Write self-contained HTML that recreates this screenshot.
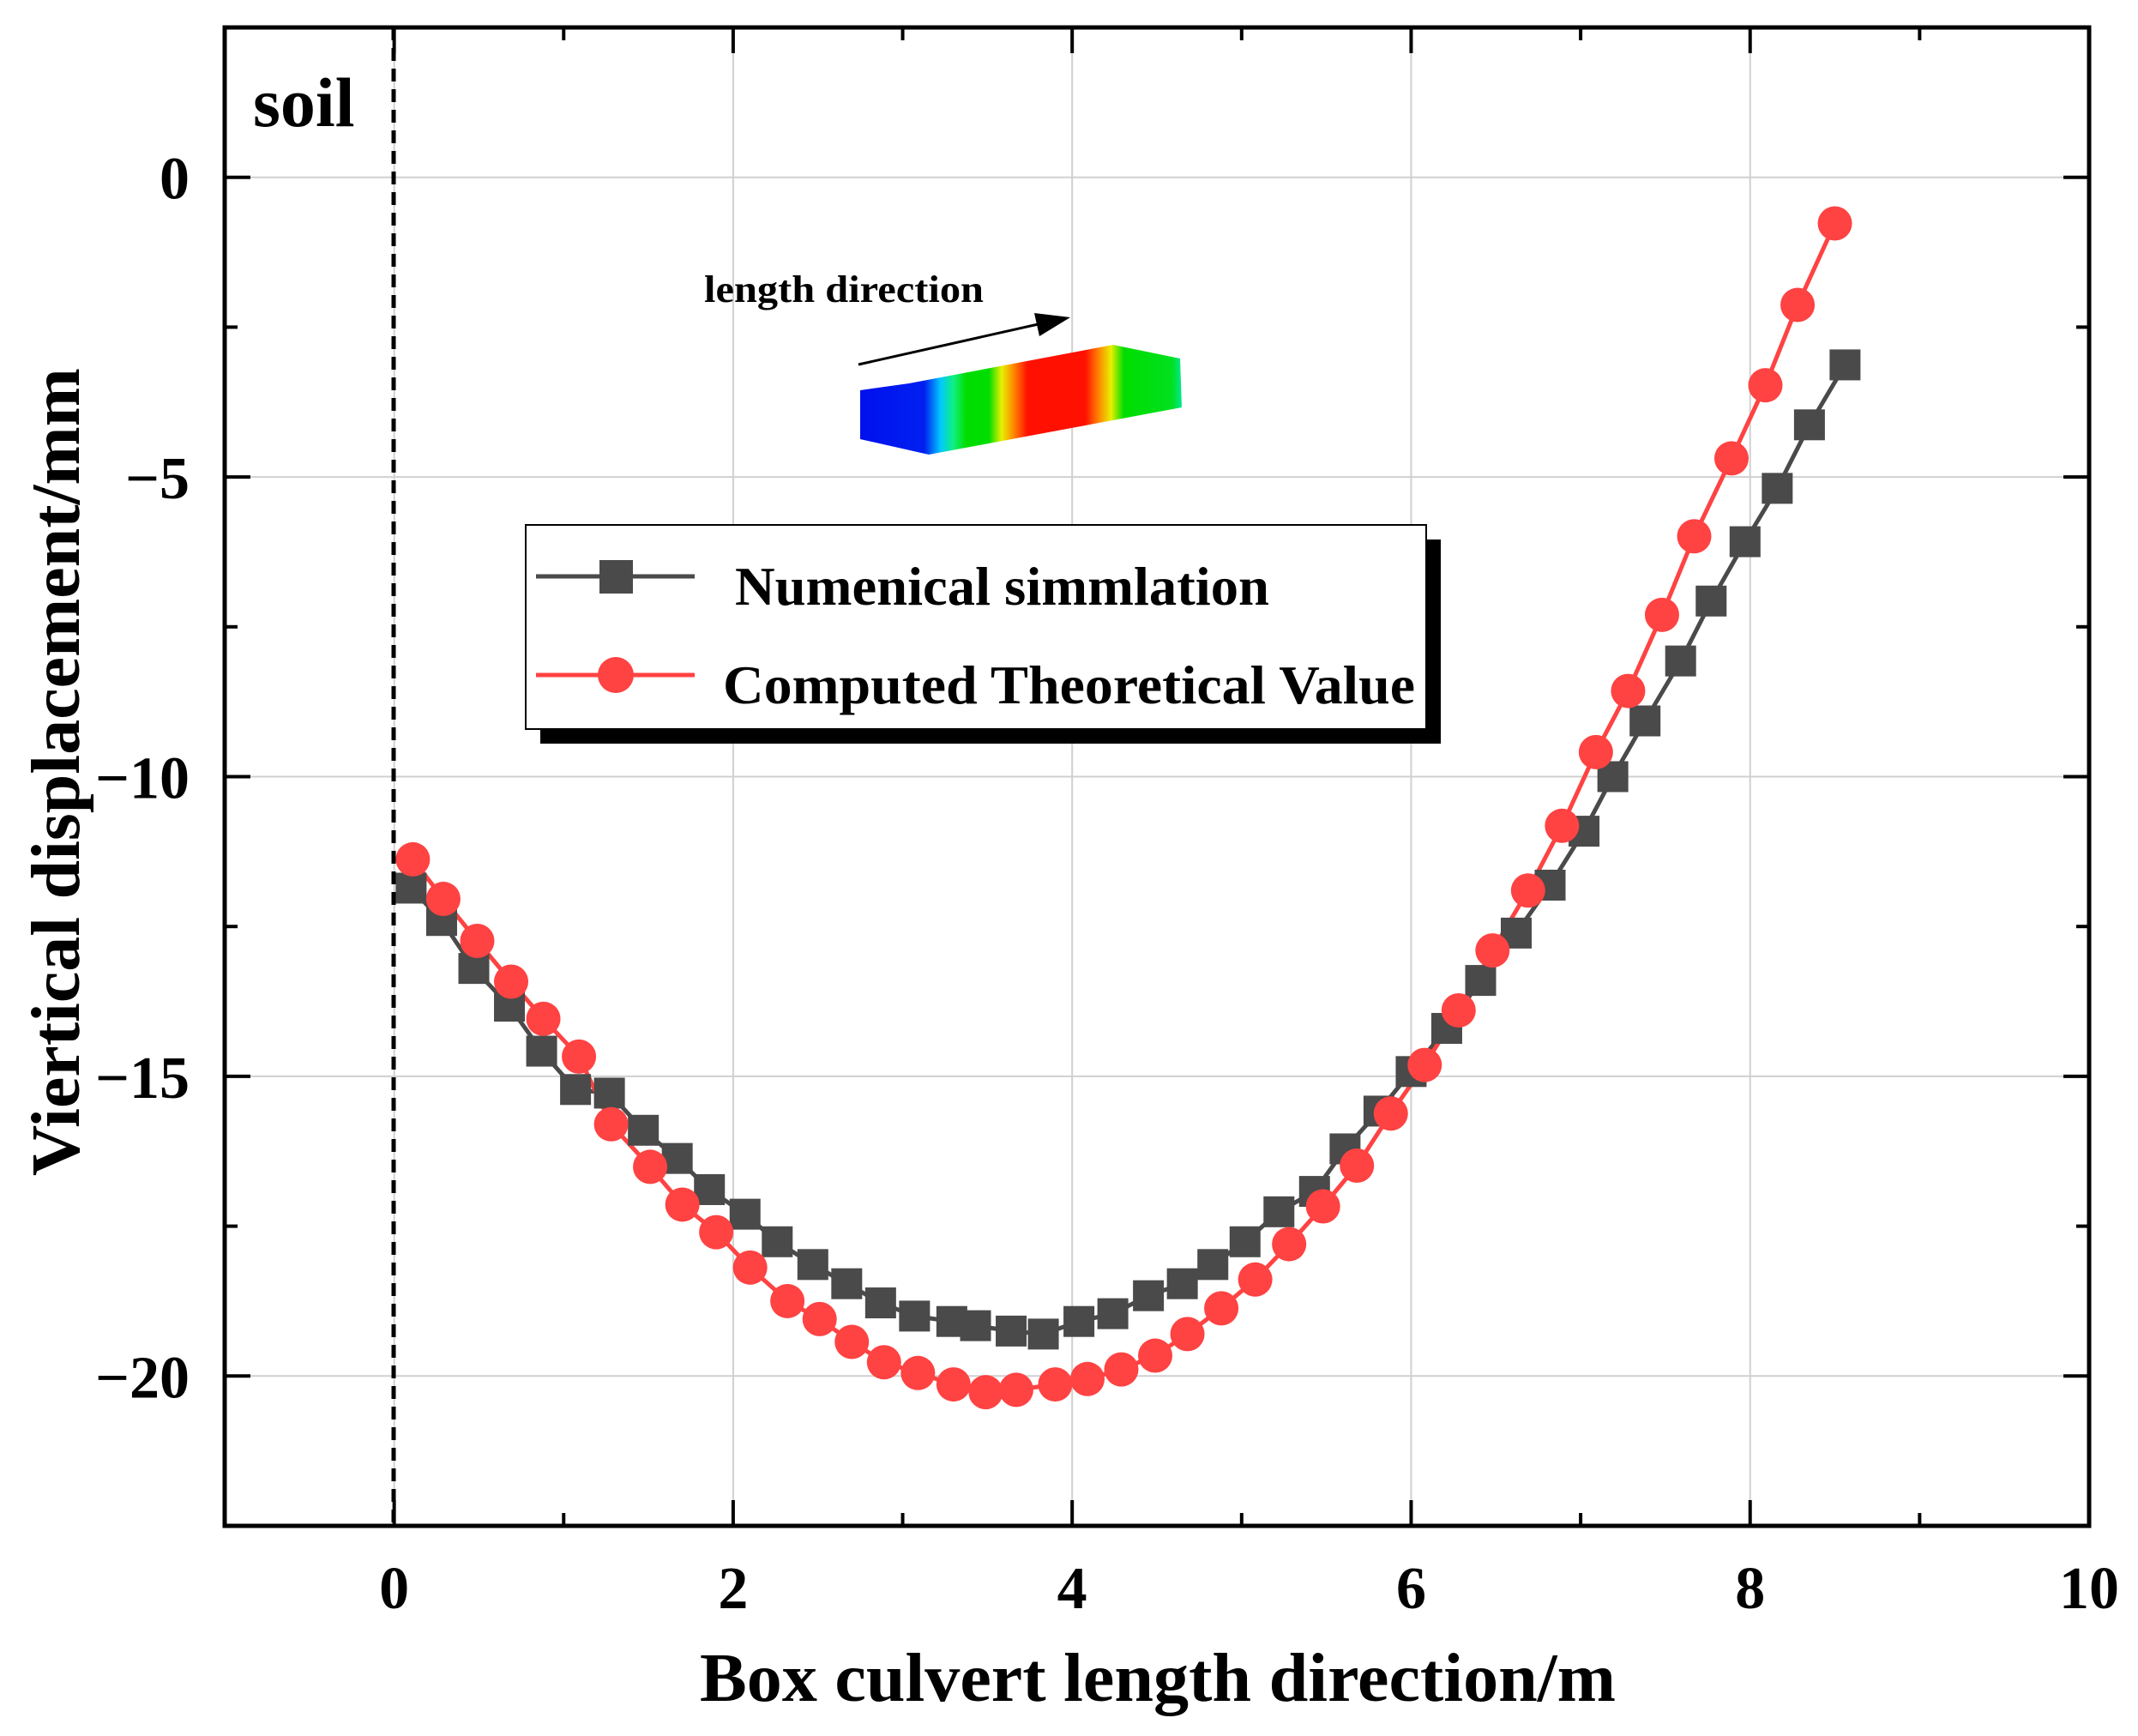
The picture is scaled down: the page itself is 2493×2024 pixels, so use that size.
<!DOCTYPE html>
<html><head><meta charset="utf-8"><style>
html,body{margin:0;padding:0;background:#fff;}
svg{display:block;font-family:"Liberation Serif",serif;font-weight:bold;}
</style></head><body>
<svg id="chart" width="2493" height="2024" viewBox="0 0 2493 2024" xmlns="http://www.w3.org/2000/svg">
<defs>
<linearGradient id="culv" x1="1003" y1="0" x2="1378" y2="0" gradientUnits="userSpaceOnUse">
<stop offset="0" stop-color="#0010ee"/><stop offset="0.2" stop-color="#0020f0"/><stop offset="0.25" stop-color="#00c8ff"/><stop offset="0.29" stop-color="#10f080"/><stop offset="0.33" stop-color="#00dd00"/><stop offset="0.4" stop-color="#00dd00"/><stop offset="0.44" stop-color="#e8f000"/><stop offset="0.48" stop-color="#ff8000"/><stop offset="0.52" stop-color="#ff1000"/><stop offset="0.7" stop-color="#ff1000"/><stop offset="0.74" stop-color="#ff8000"/><stop offset="0.78" stop-color="#e8f000"/><stop offset="0.82" stop-color="#00dd00"/><stop offset="0.97" stop-color="#00e020"/><stop offset="1" stop-color="#00e890"/>
</linearGradient>
</defs>
<g id="grid"></g>
<g id="ticks"></g>
<line x1="459" y1="32" x2="459" y2="1778" stroke="#000" stroke-width="5" stroke-dasharray="15 9"/>
<text x="295" y="147" font-size="82">soil</text>
<g>
<text x="821" y="352" font-size="44" textLength="326" lengthAdjust="spacingAndGlyphs">length direction</text>
<line x1="1001" y1="425" x2="1215" y2="377" stroke="#000" stroke-width="3"/>
<polygon points="1248,370 1206,365 1212,392" fill="#000"/>
<polygon points="1003,455 1060,447 1298,402 1376,418 1378,475 1083,530 1003,512" fill="url(#culv)"/>
</g>
<g id="series"></g>
<rect x="262" y="32" width="2174" height="1747" fill="none" stroke="#000" stroke-width="5"/>
<g id="labels"></g>
<g>
<rect x="630" y="629" width="1050" height="238" fill="#000"/>
<rect x="613" y="612" width="1050" height="238" fill="#fff" stroke="#000" stroke-width="2"/>
<g>
<line x1="625" y1="672" x2="810" y2="672" stroke="#4a4a4a" stroke-width="5"/>
<rect x="699" y="653" width="39" height="39" fill="#4a4a4a"/>
<text x="857" y="705" font-size="64" textLength="623" lengthAdjust="spacingAndGlyphs">Numenical simmlation</text>
</g>
<g>
<line x1="625" y1="787" x2="810" y2="787" stroke="#ff4242" stroke-width="5"/>
<circle cx="718" cy="787" r="21" fill="#ff4242"/>
<text x="843" y="820" font-size="64" textLength="807" lengthAdjust="spacingAndGlyphs">Computed Theoretical Value</text>
</g>
</g>
<text x="1350" y="1983" font-size="80" text-anchor="middle" textLength="1068" lengthAdjust="spacingAndGlyphs">Box culvert length direction/m</text>
<text transform="translate(92,900) rotate(-90)" font-size="80" text-anchor="middle" textLength="942" lengthAdjust="spacingAndGlyphs">Viertical displacement/mm</text>
</svg>
<script>
const numX = [0.10,0.28,0.47,0.68,0.87,1.07,1.27,1.47,1.67,1.86,2.07,2.26,2.47,2.67,2.87,3.07,3.29,3.43,3.64,3.83,4.04,4.24,4.45,4.65,4.83,5.02,5.22,5.43,5.61,5.81,6.00,6.21,6.41,6.62,6.82,7.02,7.19,7.38,7.59,7.77,7.97,8.16,8.35,8.56];
const numY = [-11.86,-12.40,-13.20,-13.83,-14.58,-15.22,-15.28,-15.90,-16.37,-16.89,-17.30,-17.76,-18.14,-18.46,-18.78,-19.00,-19.09,-19.16,-19.25,-19.30,-19.09,-18.96,-18.66,-18.46,-18.14,-17.76,-17.26,-16.92,-16.21,-15.58,-14.92,-14.20,-13.40,-12.61,-11.81,-10.91,-10.00,-9.07,-8.07,-7.07,-6.08,-5.19,-4.13,-3.13];
const thX = [0.11,0.29,0.49,0.69,0.88,1.09,1.28,1.51,1.70,1.90,2.10,2.32,2.51,2.70,2.89,3.09,3.30,3.49,3.67,3.90,4.09,4.29,4.49,4.68,4.88,5.08,5.28,5.48,5.68,5.88,6.08,6.28,6.48,6.69,6.89,7.09,7.28,7.48,7.67,7.89,8.09,8.28,8.50];
const thY = [-11.38,-12.04,-12.74,-13.42,-14.04,-14.67,-15.80,-16.51,-17.14,-17.60,-18.19,-18.75,-19.05,-19.43,-19.77,-19.95,-20.14,-20.27,-20.23,-20.14,-20.05,-19.89,-19.66,-19.30,-18.87,-18.39,-17.80,-17.17,-16.49,-15.62,-14.81,-13.90,-12.90,-11.90,-10.82,-9.59,-8.57,-7.30,-5.99,-4.69,-3.47,-2.13,-0.77];
const xTicks = [0,2,4,6,8,10];
const xTickLabels = ["0","2","4","6","8","10"];
const yTicks = [0,-5,-10,-15,-20];
const yTickLabels = ["0","\u22125","\u221210","\u221215","\u221220"];

const NS = "http://www.w3.org/2000/svg";
const X0 = 262, X1 = 2436, Y0 = 32, Y1 = 1779;
const xMin = -1, xMax = 10, yMin = -22.5, yMax = 2.5;
function sx(v){ return X0 + (v - xMin) / (xMax - xMin) * (X1 - X0); }
function sy(v){ return Y1 - (v - yMin) / (yMax - yMin) * (Y1 - Y0); }
function mk(tag, attrs, parent){ const e = document.createElementNS(NS, tag); for (const k in attrs) e.setAttribute(k, attrs[k]); parent.appendChild(e); return e; }

const grid = document.getElementById('grid');
const ticks = document.getElementById('ticks');
const labels = document.getElementById('labels');
xTicks.forEach((t, i) => {
  if (t < xMax) {
    const g = mk('line', {x1: sx(t), x2: sx(t), y1: Y0, y2: Y1, stroke: '#d0d0d0', 'stroke-width': 2}, grid);
    
    
  }
  const tb = mk('line', {x1: sx(t), x2: sx(t), y1: Y1, y2: Y1 - 30, stroke: '#000', 'stroke-width': 4}, ticks);
  
  
  mk('line', {x1: sx(t), x2: sx(t), y1: Y0, y2: Y0 + 30, stroke: '#000', 'stroke-width': 4}, ticks);
  const m = t + 1;
  if (m < xMax) {
    mk('line', {x1: sx(m), x2: sx(m), y1: Y1, y2: Y1 - 15, stroke: '#000', 'stroke-width': 4}, ticks);
    mk('line', {x1: sx(m), x2: sx(m), y1: Y0, y2: Y0 + 15, stroke: '#000', 'stroke-width': 4}, ticks);
  }
  const lb = mk('text', {x: sx(t), y: 1875, 'font-size': 70, 'text-anchor': 'middle'}, labels);
  lb.textContent = xTickLabels[i];
  
  
});
yTicks.forEach((t, i) => {
  const g = mk('line', {x1: X0, x2: X1, y1: sy(t), y2: sy(t), stroke: '#d0d0d0', 'stroke-width': 2}, grid);
  
  
  const tl = mk('line', {x1: X0, x2: X0 + 30, y1: sy(t), y2: sy(t), stroke: '#000', 'stroke-width': 4}, ticks);
  
  
  mk('line', {x1: X1, x2: X1 - 30, y1: sy(t), y2: sy(t), stroke: '#000', 'stroke-width': 4}, ticks);
  const m = t - 2.5;
  if (m > yMin) {
    mk('line', {x1: X0, x2: X0 + 15, y1: sy(m), y2: sy(m), stroke: '#000', 'stroke-width': 4}, ticks);
    mk('line', {x1: X1, x2: X1 - 15, y1: sy(m), y2: sy(m), stroke: '#000', 'stroke-width': 4}, ticks);
  }
  const lb = mk('text', {x: 221, y: sy(t) + 25, 'font-size': 70, 'text-anchor': 'end'}, labels);
  lb.textContent = yTickLabels[i];
  
  
});

const series = document.getElementById('series');
function drawLine(xs, ys, color, name){
  const pts = xs.map((x, i) => sx(x).toFixed(1) + ',' + sy(ys[i]).toFixed(1)).join(' ');
  const pl = mk('polyline', {points: pts, fill: 'none', stroke: color, 'stroke-width': 5}, series);
  
  
}
drawLine(numX, numY, '#4a4a4a', 'numerical-line');
drawLine(thX, thY, '#ff4242', 'theoretical-line');
numX.forEach((x, i) => {
  const r = mk('rect', {x: sx(x) - 18, y: sy(numY[i]) - 18, width: 36, height: 36, fill: '#4a4a4a'}, series);
  
  
});
thX.forEach((x, i) => {
  const c = mk('circle', {cx: sx(x), cy: sy(thY[i]), r: 20, fill: '#ff4242'}, series);
  
  
});
</script>
</body></html>
